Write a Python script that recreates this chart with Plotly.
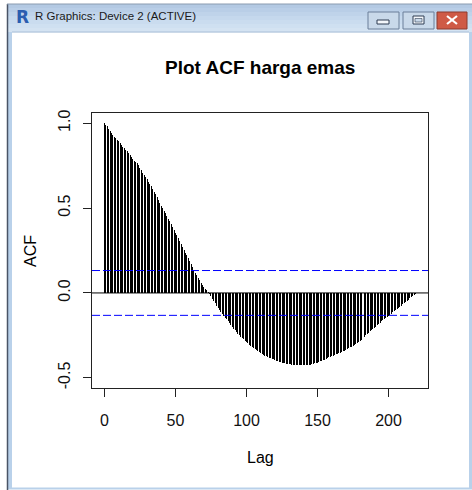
import plotly.graph_objects as go

# ---------------- data ----------------
lags = list(range(220))
acf_values = [
    1.000, 0.990, 0.981, 0.965, 0.952, 0.940, 0.929, 0.918, 0.910, 0.902,
    0.893, 0.884, 0.872, 0.860, 0.852, 0.843, 0.835, 0.822, 0.811, 0.800,
    0.791, 0.780, 0.772, 0.765, 0.752, 0.738, 0.722, 0.706, 0.694, 0.682,
    0.670, 0.656, 0.643, 0.628, 0.612, 0.596, 0.580, 0.563, 0.546, 0.530,
    0.515, 0.499, 0.483, 0.468, 0.452, 0.436, 0.421, 0.405, 0.389, 0.372,
    0.356, 0.340, 0.323, 0.306, 0.289, 0.272, 0.255, 0.238, 0.221, 0.204,
    0.187, 0.170, 0.153, 0.136, 0.119, 0.103, 0.088, 0.074, 0.061, 0.048,
    0.036, 0.025, 0.015, 0.006, -0.004, -0.018, -0.033, -0.048, -0.062, -0.076,
    -0.090, -0.101, -0.112, -0.123, -0.134, -0.145, -0.156, -0.167, -0.178, -0.189,
    -0.200, -0.210, -0.220, -0.230, -0.240, -0.250, -0.258, -0.266, -0.274, -0.282,
    -0.290, -0.297, -0.304, -0.311, -0.318, -0.325, -0.331, -0.337, -0.343, -0.349,
    -0.355, -0.360, -0.364, -0.369, -0.373, -0.378, -0.381, -0.385, -0.388, -0.392,
    -0.395, -0.398, -0.401, -0.404, -0.407, -0.410, -0.412, -0.414, -0.416, -0.418,
    -0.420, -0.421, -0.422, -0.424, -0.425, -0.426, -0.426, -0.427, -0.427, -0.427,
    -0.427, -0.426, -0.425, -0.424, -0.423, -0.422, -0.420, -0.418, -0.415, -0.413,
    -0.410, -0.407, -0.403, -0.400, -0.396, -0.393, -0.389, -0.385, -0.380, -0.376,
    -0.372, -0.369, -0.366, -0.362, -0.359, -0.356, -0.352, -0.348, -0.344, -0.340,
    -0.336, -0.331, -0.326, -0.321, -0.316, -0.311, -0.305, -0.300, -0.294, -0.289,
    -0.283, -0.275, -0.267, -0.258, -0.250, -0.242, -0.235, -0.227, -0.220, -0.212,
    -0.205, -0.198, -0.190, -0.183, -0.175, -0.168, -0.161, -0.155, -0.149, -0.142,
    -0.136, -0.129, -0.122, -0.115, -0.108, -0.101, -0.094, -0.088, -0.081, -0.075,
    -0.068, -0.061, -0.054, -0.046, -0.039, -0.032, -0.025, -0.018, -0.011, -0.004,
]
conf_limit = 0.132
title_text = "Plot ACF harga emas"
x_label = "Lag"
y_label = "ACF"
x_tick_values = [0, 50, 100, 150, 200]
y_tick_values = [-0.5, 0.0, 0.5, 1.0]
y_tick_labels = ["-0.5", "0.0", "0.5", "1.0"]
y_limits = [-0.5, 1.0]
window_title = "R Graphics: Device 2 (ACTIVE)"

# ---------------- layout geometry (pixels) ----------------
W, H = 472, 490
L, R, T, B = 92, 428, 113, 388
FONT = "Liberation Sans, Arial, sans-serif"


def px(x):
    return (x - L) / (R - L)


def py(y):
    return (B - y) / (B - T)


def rect(x0, y0, x1, y1, fill, line_color=None, lw=0):
    return dict(type="rect", xref="paper", yref="paper",
                x0=px(x0), x1=px(x1), y0=py(y1), y1=py(y0),
                fillcolor=fill, line=dict(color=line_color or fill, width=lw))


def seg(x0, y0, x1, y1, color, lw=1):
    return dict(type="line", xref="paper", yref="paper",
                x0=px(x0), x1=px(x1), y0=py(y0), y1=py(y1),
                line=dict(color=color, width=lw))


max_lag = max(lags)
xr = [-0.04 * max_lag, max_lag * 1.04]
yspan = y_limits[1] - y_limits[0]
yr = [y_limits[0] - 0.04 * yspan, y_limits[1] + 0.04 * yspan]

fig = go.Figure()
fig.add_trace(go.Bar(x=lags, y=acf_values, width=0.7,
                     marker=dict(color="rgba(0,0,0,0.995)", line=dict(width=0)),
                     hoverinfo="skip"))

shapes = []
shapes.append(dict(type="line", xref="paper", yref="y", x0=0, x1=1, y0=0, y1=0,
                   line=dict(color="black", width=1)))
for c in (conf_limit, -conf_limit):
    shapes.append(dict(type="line", xref="paper", yref="y", x0=0, x1=1, y0=c, y1=c,
                       line=dict(color="#0000ff", width=1, dash="8px,3px")))

# ---------------- window chrome ----------------
bands = ["#b3c9e3", "#b9cee7", "#bfd3ea", "#c5d8ed", "#cadcef", "#cfe0f1", "#d4e3f2"]
top, bottom = 4, 32
step = (bottom - top) / len(bands)
for i, c in enumerate(bands):
    shapes.append(rect(7, top + i * step, 472, top + (i + 1) * step + 0.5, c))
shapes.append(rect(8, 32, 12, 489, "#b9d1ea"))
shapes.append(rect(469, 32, 472, 489, "#b9d1ea"))
shapes.append(rect(8, 487.5, 472, 489.5, "#b9d1ea"))
shapes.append(seg(7.5, 4, 7.5, 490, "#4a5466", 1.5))
shapes.append(seg(7, 4, 472, 4, "#8a9bb0", 1))
shapes.append(seg(12, 32, 469, 32, "#9fb6d0", 0.8))
shapes.append(rect(368, 12, 399, 29, "#c9d9ea", "#6b7f99", 1))
shapes.append(rect(403, 12, 434, 29, "#c9d9ea", "#6b7f99", 1))
shapes.append(rect(437, 12, 467, 29, "#cf5a46", "#8c3a2e", 1))
shapes.append(rect(377, 20, 389, 24, "#f4f7fb", "#2f3d52", 1))
shapes.append(rect(413, 16, 424, 24, "#f4f7fb", "#2f3d52", 1))
shapes.append(rect(415, 18.5, 422, 22, "#c9d9ea", "#2f3d52", 0.6))
shapes.append(seg(447, 16, 457, 24, "white", 2.2))
shapes.append(seg(447, 24, 457, 16, "white", 2.2))


def ann(text, x, y, size, color="black", angle=0, xanchor="center", family=FONT):
    return dict(text=text, xref="paper", yref="paper", x=px(x), y=py(y),
                xanchor=xanchor, yanchor="middle", showarrow=False,
                textangle=angle, font=dict(family=family, size=size, color=color))


annotations = [
    ann("<b>" + title_text + "</b>", 260, 67, 19),
    ann(x_label, 260, 458, 16),
    ann(y_label, 30, 251, 16, angle=-90),
    ann(window_title, 33, 16, 11.5, color="#1a1a1a", xanchor="left"),
    ann("<b>R</b>", 13.5, 17, 17, color="#2a5db0", xanchor="left",
        family="DejaVu Sans, sans-serif"),
]

fig.update_layout(
    width=W, height=H,
    margin=dict(l=L, r=W - R, t=T, b=H - B, pad=0),
    paper_bgcolor="white", plot_bgcolor="white",
    showlegend=False, hovermode=False,
    bargap=0,
    shapes=shapes, annotations=annotations,
    font=dict(family=FONT, size=16, color="black"),
)
fig.update_xaxes(range=xr, tickvals=x_tick_values, ticks="outside", ticklen=8,
                 tickcolor="#222", tickwidth=1, showgrid=False, zeroline=False,
                 showline=True, mirror=True, linecolor="#222", linewidth=1,
                 ticklabelstandoff=10, tickfont=dict(family=FONT, size=16, color="#111"))
fig.update_yaxes(range=yr, tickvals=y_tick_values, ticktext=y_tick_labels,
                 tickangle=-90, ticks="outside", ticklen=8, tickcolor="#222",
                 tickwidth=1, showgrid=False, zeroline=False,
                 showline=True, mirror=True, linecolor="#222", linewidth=1,
                 ticklabelstandoff=7, tickfont=dict(family=FONT, size=16, color="#111"))

fig.write_html("out.html", config={"displayModeBar": False},
               post_script="document.body.style.margin='0';document.body.style.overflow='hidden';")
